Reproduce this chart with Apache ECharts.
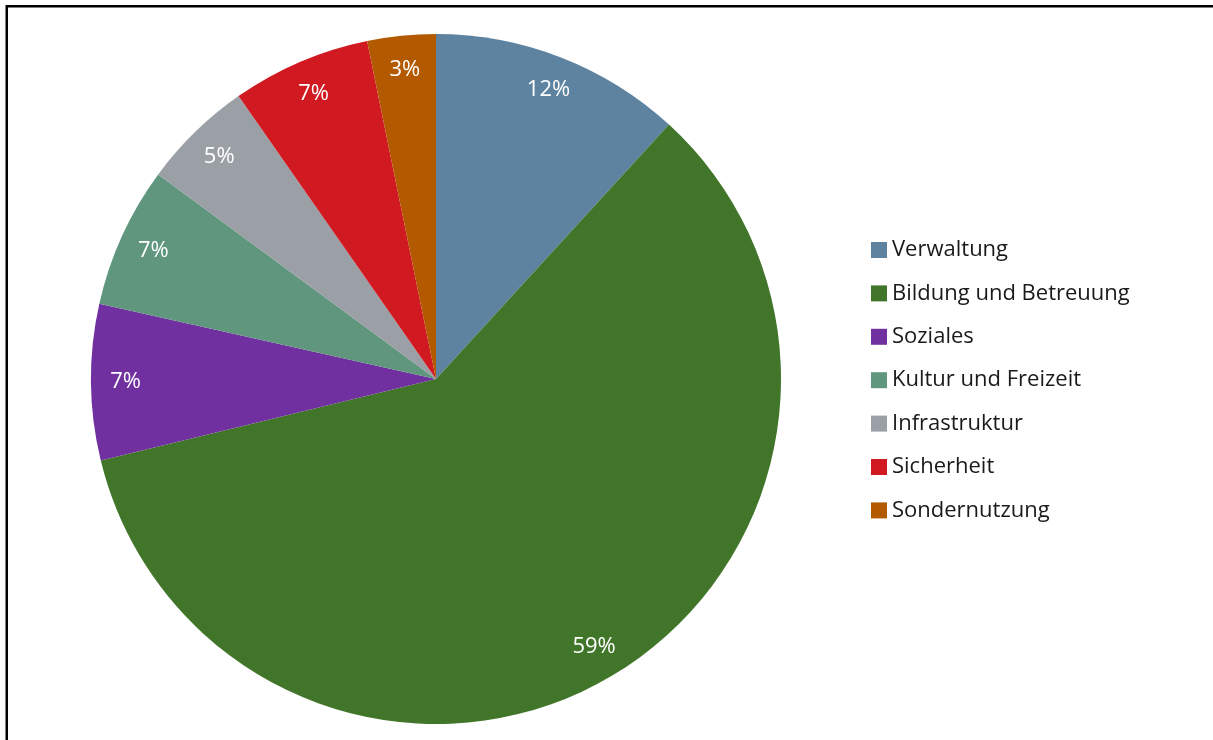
<!DOCTYPE html>
<html>
<head>
<meta charset="utf-8">
<script src="https://cdn.jsdelivr.net/npm/echarts@6/dist/echarts.min.js"></script>
<style>
html,body{margin:0;padding:0;background:#fff;}
#chart{width:1213px;height:740px;}
</style>
</head>
<body>
<div id="chart"></div>
<script>
const categories = ['Verwaltung','Bildung und Betreuung','Soziales','Kultur und Freizeit','Infrastruktur','Sicherheit','Sondernutzung'];
const shares = [11.8, 59.4, 7.3, 6.6, 5.2, 6.5, 3.2];
const colors = ['#5E83A0','#41762A','#7030A0','#5F967D','#9BA0A6','#D01920','#B35900'];

const FONT = '"Open Sans", "Noto Sans", sans-serif';
const pieData = categories.map((n,i)=>({name:n, value:shares[i], itemStyle:{color:colors[i]}}));
const labelData = categories.map((n,i)=>({name:n, value:shares[i]}));

const chart = echarts.init(document.getElementById('chart'));
chart.setOption({
  animation:false,
  color: colors,
  graphic:[{type:'rect', shape:{x:6.75,y:6.25,width:1400,height:1000}, style:{fill:'none',stroke:'#000',lineWidth:2.5}, silent:true}],
  legend:{
    orient:'vertical', left:871, top:239, padding:0,
    itemWidth:16, itemHeight:16, itemGap:21.4,
    icon:'rect',
    data: categories,
    textStyle:{fontFamily:FONT, fontSize:22, lineHeight:22, color:'#1a1a1a', padding:0},
    selectedMode:false
  },
  series:[
    {
      type:'pie', center:[436,379], radius:[0,345],
      startAngle:90, clockwise:true,
      label:{show:false}, labelLine:{show:false},
      itemStyle:{borderWidth:0},
      emphasis:{disabled:true},
      data: pieData
    },
    {
      type:'pie', center:[436,379], radius:[270,345],
      startAngle:90, clockwise:true, silent:true,
      itemStyle:{color:'rgba(0,0,0,0)', borderWidth:0},
      label:{show:true, position:'inside', color:'#fff', fontFamily:FONT, fontSize:22,
        formatter:(p)=>Math.round(p.percent)+'%'},
      labelLine:{show:false},
      emphasis:{disabled:true},
      data: labelData
    }
  ]
});
</script>
</body>
</html>
